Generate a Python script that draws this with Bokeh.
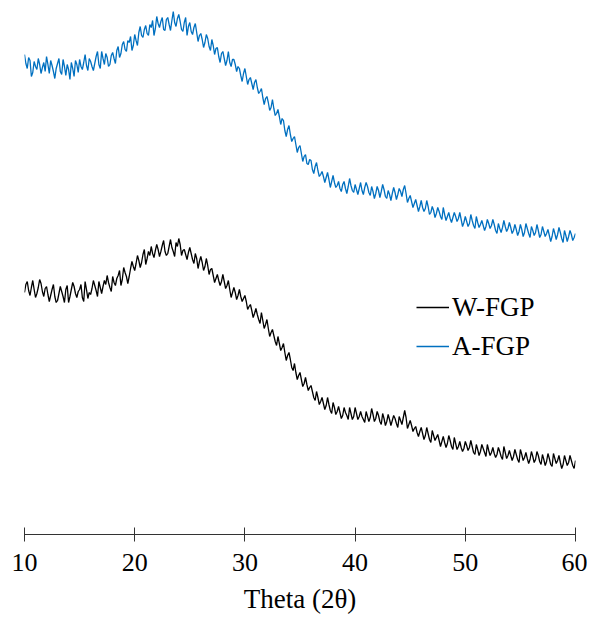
import numpy as np
from bokeh.plotting import figure
from bokeh.models import Range1d, FixedTicker, Legend, LegendItem
from bokeh.embed import file_html
from bokeh.resources import INLINE

# 2-theta grid (degrees), 0.125 deg steps from 10 to 60
theta = np.linspace(10, 60, 401)

# A-FGP intensity (a.u.) (one row per degree)
a_fgp = [
    480, 471, 466, 477, 474, 458, 462, 473,
    468, 465, 476, 470, 461, 467, 472, 463,
    478, 470, 461, 474, 469, 463, 456, 466,
    471, 476, 463, 460, 475, 468, 459, 470,
    465, 455, 472, 466, 458, 474, 470, 462,
    475, 468, 465, 472, 480, 469, 464, 476,
    473, 468, 464, 471, 478, 483, 470, 466,
    483, 476, 470, 481, 477, 468, 470, 479,
    482, 476, 471, 484, 488, 477, 481, 490,
    493, 485, 483, 494, 492, 498, 484, 489,
    500, 494, 489, 502, 508, 499, 497, 505,
    509, 501, 499, 510, 507, 514, 499, 506,
    518, 511, 507, 513, 517, 505, 504, 515,
    517, 510, 504, 514, 523, 512, 508, 516,
    520, 513, 505, 503, 512, 517, 499, 508,
    512, 503, 500, 507, 511, 502, 493, 499,
    501, 495, 487, 492, 500, 496, 488, 484,
    495, 489, 480, 486, 487, 478, 472, 481,
    483, 476, 469, 474, 483, 472, 468, 475,
    475, 470, 463, 468, 466, 459, 453, 461,
    466, 458, 450, 455, 457, 451, 445, 452,
    455, 447, 441, 443, 446, 437, 430, 436,
    438, 432, 424, 427, 435, 426, 419, 421,
    425, 418, 410, 416, 414, 404, 398, 405,
    409, 400, 393, 396, 398, 390, 382, 387,
    389, 381, 373, 378, 380, 371, 370, 375,
    374, 365, 361, 368, 372, 364, 358, 360,
    363, 358, 352, 357, 362, 355, 347, 353,
    359, 352, 347, 349, 353, 346, 343, 350,
    353, 346, 341, 348, 356, 349, 344, 342,
    350, 345, 340, 346, 352, 344, 340, 347,
    352, 348, 342, 339, 348, 343, 336, 341,
    348, 344, 337, 343, 350, 345, 338, 336,
    344, 340, 334, 341, 347, 342, 335, 340,
    346, 343, 338, 345, 349, 341, 332, 336,
    339, 333, 327, 331, 335, 329, 323, 328,
    334, 327, 323, 326, 334, 328, 320, 322,
    328, 324, 317, 321, 327, 323, 318, 315,
    327, 320, 314, 318, 322, 316, 312, 317,
    322, 318, 313, 316, 322, 315, 308, 312,
    318, 313, 308, 311, 320, 314, 309, 306,
    318, 312, 307, 310, 314, 309, 304, 308,
    315, 311, 306, 309, 315, 310, 304, 301,
    311, 306, 302, 307, 314, 308, 303, 306,
    312, 307, 301, 304, 310, 305, 299, 303,
    310, 305, 298, 302, 311, 306, 301, 297,
    308, 304, 299, 302, 310, 304, 297, 300,
    308, 303, 298, 301, 305, 299, 293, 298,
    306, 301, 295, 300, 307, 302, 296, 292,
    304, 299, 293, 298, 304, 300, 294, 297,
    301,
]

# W-FGP intensity (a.u.) (one row per degree)
w_fgp = [
    242, 250, 253, 244, 239, 247, 254, 245,
    237, 241, 247, 255, 251, 243, 238, 246,
    248, 240, 233, 239, 245, 250, 238, 232,
    234, 241, 248, 243, 238, 232, 245, 249,
    232, 238, 245, 252, 248, 241, 237, 243,
    245, 250, 237, 233, 253, 245, 236, 242,
    240, 246, 254, 249, 244, 238, 253, 247,
    241, 248, 254, 250, 259, 252, 247, 243,
    258, 252, 249, 256, 259, 264, 249, 255,
    267, 262, 258, 251, 258, 266, 273, 268,
    264, 271, 279, 274, 267, 272, 280, 285,
    270, 276, 283, 279, 288, 281, 277, 284,
    290, 285, 278, 283, 289, 294, 283, 279,
    281, 288, 295, 287, 283, 278, 292, 288,
    296, 290, 279, 284, 285, 280, 275, 282,
    287, 281, 275, 271, 281, 276, 266, 273,
    278, 272, 264, 268, 276, 269, 260, 265,
    266, 259, 252, 256, 260, 254, 249, 253,
    260, 253, 246, 249, 254, 245, 237, 242,
    247, 242, 235, 239, 245, 238, 233, 236,
    239, 233, 225, 228, 230, 224, 217, 221,
    226, 220, 215, 211, 222, 214, 206, 210,
    215, 206, 198, 202, 205, 199, 193, 189,
    198, 191, 184, 187, 191, 182, 174, 179,
    182, 175, 167, 164, 171, 162, 155, 159,
    162, 155, 148, 151, 157, 150, 144, 147,
    149, 143, 137, 134, 143, 137, 130, 133,
    137, 131, 125, 129, 137, 130, 124, 121,
    132, 127, 120, 123, 128, 122, 116, 119,
    127, 122, 119, 115, 127, 121, 115, 118,
    127, 121, 115, 118, 123, 118, 115, 112,
    123, 118, 113, 117, 126, 120, 113, 116,
    123, 119, 113, 110, 121, 116, 109, 113,
    120, 115, 109, 114, 119, 116, 111, 107,
    118, 114, 110, 117, 124, 117, 106, 110,
    114, 109, 103, 106, 108, 102, 98, 103,
    107, 101, 95, 99, 107, 101, 95, 92,
    104, 99, 94, 97, 100, 94, 88, 93,
    98, 92, 87, 91, 99, 94, 88, 85,
    97, 91, 85, 88, 93, 87, 83, 86,
    93, 89, 84, 87, 94, 88, 82, 80,
    90, 85, 79, 83, 90, 86, 82, 78,
    90, 84, 79, 82, 87, 81, 77, 80,
    87, 83, 78, 75, 88, 82, 76, 79,
    84, 79, 74, 78, 85, 80, 75, 72,
    85, 80, 74, 77, 82, 76, 71, 75,
    83, 78, 72, 75, 83, 79, 73, 70,
    80, 75, 69, 73, 81, 76, 70, 68,
    81, 76, 71, 74, 79, 72, 66, 70,
    79, 74, 69, 72, 79, 74, 69, 66,
    74,
]

x_ticks = [10, 20, 30, 40, 50, 60]
series_names = ["W-FGP", "A-FGP"]
series_colors = ["#000000", "#0070C0"]

FONT = "Liberation Serif"

p = figure(width=587, height=617, output_backend="svg", toolbar_location=None,
           x_range=Range1d(10, 60), y_range=Range1d(0, 534),
           min_border_left=24, min_border_right=12, min_border_top=0,
           min_border_bottom=83)
p.outline_line_color = None
p.grid.visible = False
p.yaxis.visible = False

r_w = p.line(theta, w_fgp, line_color=series_colors[0], line_width=1.3)
r_a = p.line(theta, a_fgp, line_color=series_colors[1], line_width=1.3)

ax = p.xaxis[0]
ax.ticker = FixedTicker(ticks=x_ticks)
ax.minor_tick_line_color = None
ax.major_tick_in = 7
ax.major_tick_out = 7
ax.axis_line_color = "#333333"
ax.major_tick_line_color = "#333333"
ax.major_label_text_font = FONT
ax.major_label_text_font_size = "26px"
ax.major_label_text_color = "#000000"
ax.major_label_standoff = 12
ax.axis_label = "Theta (2θ)"
ax.axis_label_text_font = FONT
ax.axis_label_text_font_size = "27px"
ax.axis_label_text_font_style = "normal"
ax.axis_label_text_color = "#000000"
ax.axis_label_standoff = 10

legend = Legend(items=[LegendItem(label=series_names[0], renderers=[r_w]),
                       LegendItem(label=series_names[1], renderers=[r_a])],
                location=(392, 171), orientation="vertical")
legend.label_text_font = FONT
legend.label_text_font_size = "27px"
legend.label_text_color = "#000000"
legend.glyph_width = 33
legend.glyph_height = 34
legend.label_height = 34
legend.label_standoff = 3
legend.spacing = 5
legend.padding = 0
legend.margin = 0
legend.border_line_color = None
legend.background_fill_alpha = 0
p.add_layout(legend)

open("out.html", "w").write(file_html(p, INLINE))
